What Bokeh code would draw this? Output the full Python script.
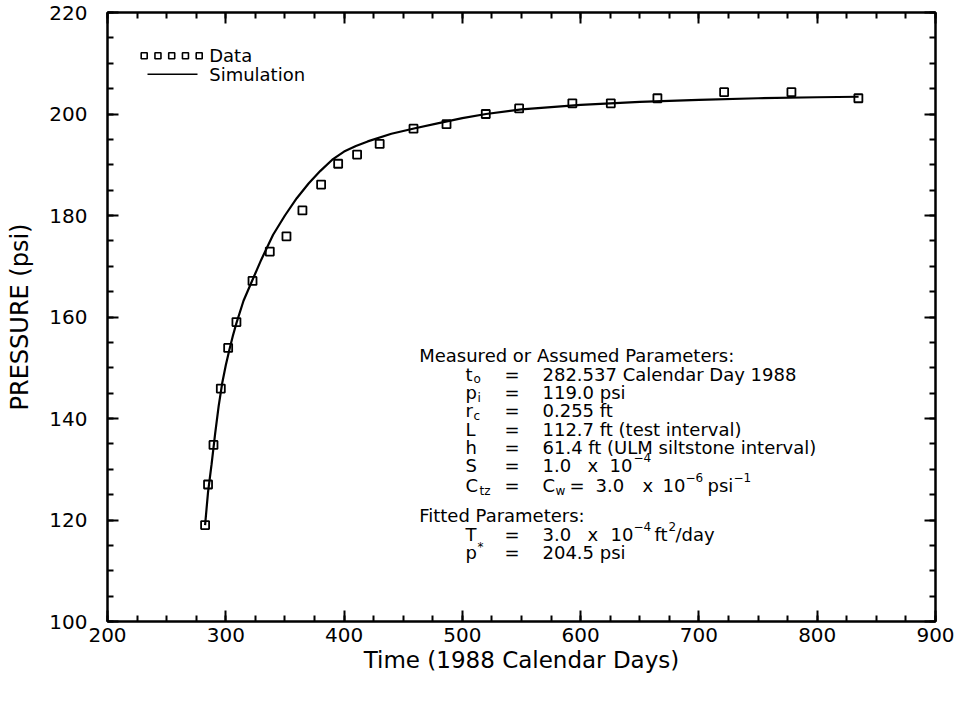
from bokeh.plotting import figure
from bokeh.models import Range1d, LinearAxis, SingleIntervalTicker, ColumnDataSource, CustomJSTickFormatter
from bokeh.core.properties import value
from bokeh.embed import file_html
from bokeh.resources import INLINE

# ---------------- data ----------------
time_data = [282.5, 285.0, 289.6, 295.8, 302.0, 309.0, 322.6, 337.2, 351.3, 364.8,
             380.6, 395.0, 411.0, 430.1, 458.7, 486.6, 519.8, 548.0, 593.0, 625.5,
             664.9, 721.3, 778.2, 834.8]
pressure_data = [119.0, 127.0, 134.8, 145.9, 153.9, 159.0, 167.1, 172.9, 175.9, 181.0,
                 186.1, 190.2, 192.0, 194.1, 197.1, 198.0, 200.0, 201.1, 202.1, 202.1,
                 203.1, 204.3, 204.3, 203.1]

sim_time = [282.5, 285, 288, 291, 294, 297, 300, 303, 306, 309, 315, 322, 330, 340, 350,
            360, 370, 380, 390, 400, 410, 420, 440, 460, 480, 500, 520, 550, 600, 650,
            700, 750, 800, 835]
sim_pressure = [119.0, 125.5, 131.0, 137.0, 142.5, 147.0, 150.5, 153.5, 156.3, 158.8,
                163.2, 167.0, 171.3, 176.2, 180.0, 183.4, 186.3, 188.8, 191.0, 192.6,
                193.7, 194.6, 196.1, 197.2, 198.2, 199.2, 200.0, 200.9, 201.8, 202.4,
                202.8, 203.1, 203.3, 203.4]

x_title = "Time (1988 Calendar Days)"
y_title = "PRESSURE (psi)"
legend_labels = ["Data", "Simulation"]

FONT = "DejaVu Sans"

# frame in reference pixels (used only to place annotation text)
FL, FR, FT, FB = 115.0, 943.0, 20.0, 629.0
X0, X1, Y0, Y1 = 200.0, 900.0, 100.0, 220.0


def dx(px):
    return X0 + (px - FL) * (X1 - X0) / (FR - FL)


def dy(py):
    return Y1 - (py - FT) * (Y1 - Y0) / (FB - FT)


p = figure(width=956, height=692, x_range=Range1d(X0, X1), y_range=Range1d(Y0, Y1),
           output_backend="svg", toolbar_location=None,
           min_border_left=107, min_border_right=21, min_border_top=12, min_border_bottom=71)
p.background_fill_color = "white"
p.border_fill_color = "white"
p.outline_line_color = "black"
p.outline_line_width = 2
p.xgrid.visible = False
p.ygrid.visible = False


def style_axis(ax):
    ax.axis_line_width = 2
    ax.axis_line_color = "black"
    ax.major_tick_in = 11
    ax.major_tick_out = 0
    ax.minor_tick_in = 6
    ax.minor_tick_out = 0
    ax.major_tick_line_width = 2
    ax.minor_tick_line_width = 2
    ax.major_tick_line_color = "black"
    ax.minor_tick_line_color = "black"
    ax.major_label_text_font = FONT
    ax.major_label_text_color = "black"
    ax.axis_label_text_color = "black"
    ax.major_label_text_font_size = "20px"


xb = p.xaxis[0]
xb.ticker = SingleIntervalTicker(interval=100, num_minor_ticks=4)
style_axis(xb)
xb.axis_label = x_title
xb.axis_label_text_font = FONT
xb.axis_label_text_font_size = "23px"
xb.axis_label_text_font_style = "normal"
xb.major_label_standoff = 6
xb.axis_label_standoff = 2

yl = p.yaxis[0]
yl.ticker = SingleIntervalTicker(interval=20, num_minor_ticks=4)
style_axis(yl)
yl.axis_label = y_title
yl.axis_label_text_font = FONT
yl.axis_label_text_font_size = "24px"
yl.axis_label_text_font_style = "normal"
yl.major_label_standoff = 20
yl.axis_label_standoff = 12

# mirrored tick marks on the top and right edges (no labels)
blank = CustomJSTickFormatter(code="return '';")
xt = LinearAxis(ticker=SingleIntervalTicker(interval=100, num_minor_ticks=4), formatter=blank)
style_axis(xt)
xt.major_label_text_font_size = "1px"
xt.major_label_standoff = 0
p.add_layout(xt, "above")
yr = LinearAxis(ticker=SingleIntervalTicker(interval=20, num_minor_ticks=4), formatter=blank)
style_axis(yr)
yr.major_label_text_font_size = "1px"
yr.major_label_standoff = 0
p.add_layout(yr, "right")

# simulation curve and data
p.line(sim_time, sim_pressure, line_color="black", line_width=2.2)
p.scatter(time_data, pressure_data, marker="square", size=8, fill_color=None,
          line_color="black", line_width=1.8)

# legend (drawn by hand: five small squares, then a line)
leg_sq_x = [dx(151.7 + i * 13.75) for i in range(5)]
p.scatter(leg_sq_x, [dy(63.3)] * 5, marker="square", size=6, fill_color=None,
          line_color="black", line_width=1.6)
p.line([dx(155), dx(205)], [dy(81.7)] * 2, line_color="black", line_width=1.6)

# ---------------- annotation text ----------------
main_tokens = []   # (px, py, text)
small_tokens = []  # (px, py, text)

main_tokens += [(216.7, 63.3, legend_labels[0]), (216.7, 81.7, legend_labels[1])]

LM, LT, LP, LR, LL, LH, LS, LC, LF, LTT, LPS = 363, 381.7, 400, 418, 436.7, 455, 473, 493.3, 523.3, 541.7, 560
SYM, EQ, VAL = 473, 512, 550
SUB, SUP = 5, -8

main_tokens += [
    (426.7, LM, "Measured  or  Assumed  Parameters:"),
    (SYM, LT, "t"), (EQ, LT, "="), (VAL, LT, "282.537  Calendar  Day  1988"),
    (SYM, LP, "p"), (EQ, LP, "="), (VAL, LP, "119.0  psi"),
    (SYM, LR, "r"), (EQ, LR, "="), (VAL, LR, "0.255  ft"),
    (SYM, LL, "L"), (EQ, LL, "="), (VAL, LL, "112.7  ft  (test  interval)"),
    (SYM, LH, "h"), (EQ, LH, "="), (VAL, LH, "61.4  ft  (ULM  siltstone  interval)"),
    (SYM, LS, "S"), (EQ, LS, "="), (VAL, LS, "1.0"), (595, LS, "x"), (617, LS, "10"),
    (SYM, LC, "C"), (EQ, LC, "="), (VAL, LC, "C"), (577, LC, "="), (603, LC, "3.0"),
    (650, LC, "x"), (670, LC, "10"), (715, LC, "psi"),
    (426.7, LF, "Fitted  Parameters:"),
    (SYM, LTT, "T"), (EQ, LTT, "="), (VAL, LTT, "3.0"), (595, LTT, "x"), (618, LTT, "10"),
    (662, LTT, "ft"), (683, LTT, "/day"),
    (SYM, LPS, "p"), (EQ, LPS, "="), (VAL, LPS, "204.5  psi"),
]
small_tokens += [
    (481, LT + SUB, "o"), (485, LP + SUB, "i"), (481, LR + SUB, "c"),
    (641, LS + SUP, "\u22124"),
    (487, LC + SUB, "tz"), (563, LC + SUB, "w"), (693, LC + SUP, "\u22126"),
    (741, LC + SUP, "\u22121"),
    (641, LTT + SUP, "\u22124"), (676, LTT + SUP, "2"),
    (485, LPS + SUP + 2, "*"),
]

src_main = ColumnDataSource(dict(x=[dx(t[0]) for t in main_tokens],
                                 y=[dy(t[1]) for t in main_tokens],
                                 text=[t[2] for t in main_tokens]))
src_small = ColumnDataSource(dict(x=[dx(t[0]) for t in small_tokens],
                                  y=[dy(t[1]) for t in small_tokens],
                                  text=[t[2] for t in small_tokens]))
p.text(x="x", y="y", text="text", source=src_main, text_font=value(FONT),
       text_font_size="18px", text_baseline="middle", text_align="left", text_color="black")
p.text(x="x", y="y", text="text", source=src_small, text_font=value(FONT),
       text_font_size="12px", text_baseline="middle", text_align="left", text_color="black")

open("out.html", "w").write(file_html(p, INLINE))
